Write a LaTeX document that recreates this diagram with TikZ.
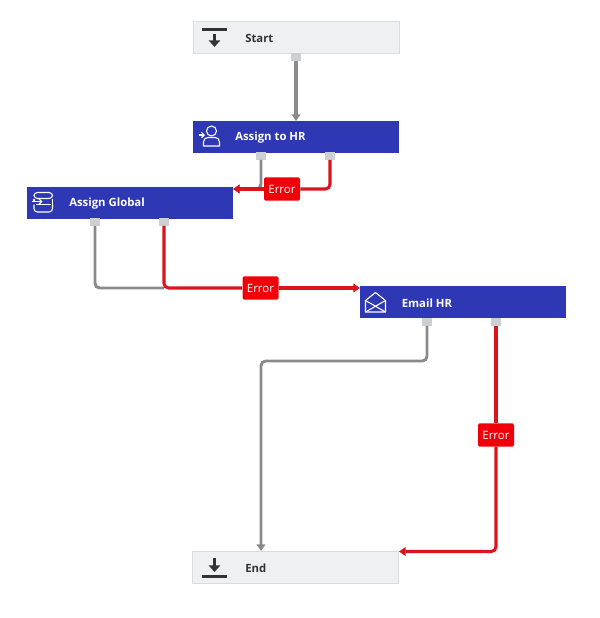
\documentclass[tikz,border=0pt]{standalone}
\usepackage{fontspec}
\setmainfont{Open Sans}
\usetikzlibrary{arrows.meta}
\definecolor{taskblue}{HTML}{2F38B4}
\definecolor{termfill}{HTML}{EEF0F1}
\definecolor{termline}{HTML}{D9DCDD}
\definecolor{portfill}{HTML}{CDCFD3}
\definecolor{flowgray}{HTML}{8A8A8A}
\definecolor{errred}{HTML}{D9141C}
\definecolor{errfill}{HTML}{F00008}
\definecolor{icondark}{HTML}{333333}
\begin{document}
\begin{tikzpicture}[x=0.75pt,y=-0.75pt]
    \tikzstyle{term}=[rectangle, fill=termfill, draw=termline, line width=0.6pt, inner sep=0pt, minimum width=154.5pt, minimum height=24pt]
    \tikzstyle{task}=[rectangle, fill=taskblue, draw=none, inner sep=0pt, minimum width=154.5pt, minimum height=24pt]
    \tikzstyle{port}=[rectangle, fill=portfill, draw=none, inner sep=0pt, minimum width=8pt, minimum height=5.5pt]
    \tikzstyle{err}=[rectangle, rounded corners=1.2pt, fill=errfill, draw=none, inner sep=0pt, minimum width=27pt, minimum height=17.5pt, text=white, font=\fontsize{8.6}{10}\selectfont]
    \tikzstyle{label}=[inner sep=0pt, anchor=west, font=\bfseries\fontsize{8.5}{10}\selectfont]
    \tikzstyle{flow}=[flowgray, line width=2.2pt, rounded corners=3.5pt]
    \tikzstyle{fail}=[errred, line width=2.3pt, rounded corners=3.5pt]
    \tikzstyle{icon}=[white, line width=0.8pt, line join=round]
    \tikzstyle{tip}=[-{Triangle[length=5pt,width=6.5pt]}]

    \useasboundingbox (0,0) rectangle (600,618);

    \node[term] (start) at (296.5,37) {};
    \node[task] (hr) at (296,137) {};
    \node[task] (global) at (130,203) {};
    \node[task] (email) at (462.5,302) {};
    \node[term] (end) at (295.5,567.5) {};

    \node[label, text=icondark] at (245,38) {Start};
    \node[label, text=white] at (235,137.5) {Assign to HR};
    \node[label, text=white] at (69,204) {Assign Global};
    \node[label, text=white] at (401.5,303) {Email HR};
    \node[label, text=icondark] at (245,568) {End};

    \node[port] (startout) at (296,57) {};
    \node[port] (hrok) at (261,156) {};
    \node[port] (hrerr) at (330,156) {};
    \node[port] (globalok) at (95,222) {};
    \node[port] (globalerr) at (164,222) {};
    \node[port] (emailok) at (427,322) {};
    \node[port] (emailerr) at (496,322) {};

    \node[err] (errone) at (282,189) {Error};
    \node[err] (errtwo) at (260.5,288) {Error};
    \node[err] (errthree) at (496,435) {Error};

    \coordinate (hrin) at (296,121);
    \coordinate (globalin) at (233,189);
    \coordinate (merge) at (164,288);
    \coordinate (emailin) at (360,288);
    \coordinate (across) at (345,361);
    \coordinate (endgray) at (261,551);
    \coordinate (endred) at (399,551.5);

    \draw[flow, line width=2.9pt, tip] (startout) -- (hrin);
    \draw[flow, tip] (hrok) |- (globalin);
    \draw[flow] (globalok) |- (merge);
    \draw[flow, tip] (emailok) |- (across) -| (endgray);

    \draw[fail] (hrerr) |- (errone);
    \draw[fail, tip] (errone) -- (globalin);
    \draw[fail] (globalerr) |- (errtwo);
    \draw[fail, tip] (errtwo) -- (emailin);
    \draw[fail] (emailerr) -- (errthree);
    \draw[fail, tip] (errthree) |- (endred);

    \fill[icondark] (202,27.5) rectangle (227,30.5);
    \draw[icondark, line width=2pt, -{Triangle[length=5pt,width=8.5pt]}] (214.5,34) -- (214.5,47);
    \draw[icondark, line width=2pt, -{Triangle[length=5pt,width=8.5pt]}] (214.5,558) -- (214.5,572);
    \fill[icondark] (202,574.5) rectangle (227,577.5);

    \draw[icon] (211.5,131) circle (5);
    \draw[icon] (203.5,146) -- (203.5,142) .. controls (203.5,139) and (205.5,137.5) .. (208,137.5) -- (215,137.5) .. controls (217.5,137.5) and (219.5,139) .. (219.5,142) -- (219.5,146) -- cycle;
    \draw[icon, -{Straight Barb[length=2pt,width=4pt]}] (198.5,135) -- (205,135);

    \draw[icon, rounded corners=2.5pt] (34,192.5) rectangle (52.5,198.5);
    \draw[icon, rounded corners=2.5pt] (34,200.5) -- (34,198.5) (52.5,198.5) -- (52.5,206);
    \draw[icon] (36,204.5) -- (50.5,204.5);
    \draw[icon, rounded corners=2.5pt] (34,204.5) -- (34,212) -- (52.5,212) -- (52.5,204.5);
    \draw[icon, -{Straight Barb[length=2pt,width=4pt]}] (32,201.5) -- (42.5,201.5);

    \draw[icon] (365.5,312) -- (365.5,300.5) -- (375.5,292.5) -- (385.5,300.5) -- (385.5,312) -- cycle;
    \draw[icon] (365.5,300.5) -- (385.5,312);
    \draw[icon] (385.5,300.5) -- (365.5,312);
\end{tikzpicture}
\end{document}
